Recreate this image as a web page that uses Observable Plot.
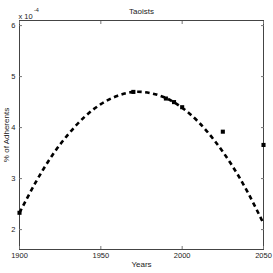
<!DOCTYPE html>
<html>
<head>
<meta charset="utf-8">
<script src="https://cdn.jsdelivr.net/npm/d3@7"></script>
<script src="https://cdn.jsdelivr.net/npm/@observablehq/plot@0.6"></script>
<style>
  html, body { margin: 0; padding: 0; background: #fff; }
</style>
</head>
<body>
<div id="chart"></div>
<script>
// Observed data (units of 1e-4 %)
const obsYears = [1900, 1970, 1990, 1995, 2000, 2025, 2050];
const obsValues = [2.33, 4.70, 4.57, 4.50, 4.40, 3.92, 3.66];

// Fitted (dashed) curve
const fitYears = [1900, 1910, 1920, 1930, 1940, 1950, 1960, 1970, 1980, 1990, 2000, 2010, 2020, 2030, 2040, 2050];
const fitValues = [2.33, 2.93, 3.45, 3.87, 4.21, 4.46, 4.62, 4.70, 4.68, 4.58, 4.39, 4.11, 3.74, 3.29, 2.75, 2.12];

const xTicks = [1900, 1950, 2000, 2050];
const yTicks = [2, 3, 4, 5, 6];

const obs = obsYears.map((x, i) => ({x, y: obsValues[i]}));
const fit = fitYears.map((x, i) => ({x, y: fitValues[i]}));

const chart = Plot.plot({
  width: 273,
  height: 273,
  marginLeft: 19,
  marginRight: 10,
  marginTop: 20,
  marginBottom: 24,
  style: {fontFamily: "'Liberation Sans', Arial, Helvetica, sans-serif", fontSize: "8px", background: "#fff", color: "#000"},
  x: {domain: [1900, 2050]},
  y: {domain: [1.61, 6.1]},
  marks: [
    Plot.frame({stroke: "#444", strokeWidth: 1}),
    // inward ticks
    Plot.axisX(xTicks, {anchor: "bottom", tickSize: -3, tickFormat: () => "", label: null, stroke: "#777"}),
    Plot.axisX(xTicks, {anchor: "top", tickSize: -3, tickFormat: () => "", label: null, stroke: "#777"}),
    Plot.axisY(yTicks, {anchor: "left", tickSize: -3, tickFormat: () => "", label: null, stroke: "#777"}),
    Plot.axisY(yTicks, {anchor: "right", tickSize: -3, tickFormat: () => "", label: null, stroke: "#777"}),
    // tick labels
    Plot.axisX(xTicks, {anchor: "bottom", tickSize: 0, tickPadding: 3, tickFormat: d => String(d), label: null, fontSize: 7.5, fill: "#222"}),
    Plot.axisY(yTicks, {anchor: "left", tickSize: 0, tickPadding: 4, tickFormat: d => String(d), label: null, fontSize: 7.5, fill: "#222"}),
    // fitted curve
    Plot.line(fit, {x: "x", y: "y", stroke: "#000", strokeWidth: 2.6, strokeDasharray: "4.5,3.5", strokeLinecap: "butt", curve: "natural"}),
    // observed points
    Plot.dot(obs, {x: "x", y: "y", symbol: "square", r: 2.3, fill: "#000", stroke: null}),
    // texts
    Plot.text(["Taoists"], {frameAnchor: "top", dy: -12, fontSize: 8, fill: "#222"}),
    Plot.text(["x 10"], {frameAnchor: "top-left", textAnchor: "start", dx: -1, dy: -7, fontSize: 7.5, fill: "#222"}),
    Plot.text(["-4"], {frameAnchor: "top-left", textAnchor: "start", dx: 14.5, dy: -12, fontSize: 5.5, fill: "#222"}),
    Plot.axisY({anchor: "left", ticks: [], tickSize: 0, label: "% of Adherents", labelAnchor: "center", labelOffset: 16, labelArrow: "none", fontSize: 8, fill: "#222"}),
    Plot.text(["Years"], {frameAnchor: "bottom", dy: 17, fontSize: 8, fill: "#222"})
  ]
});
document.getElementById("chart").appendChild(chart);
</script>
</body>
</html>
